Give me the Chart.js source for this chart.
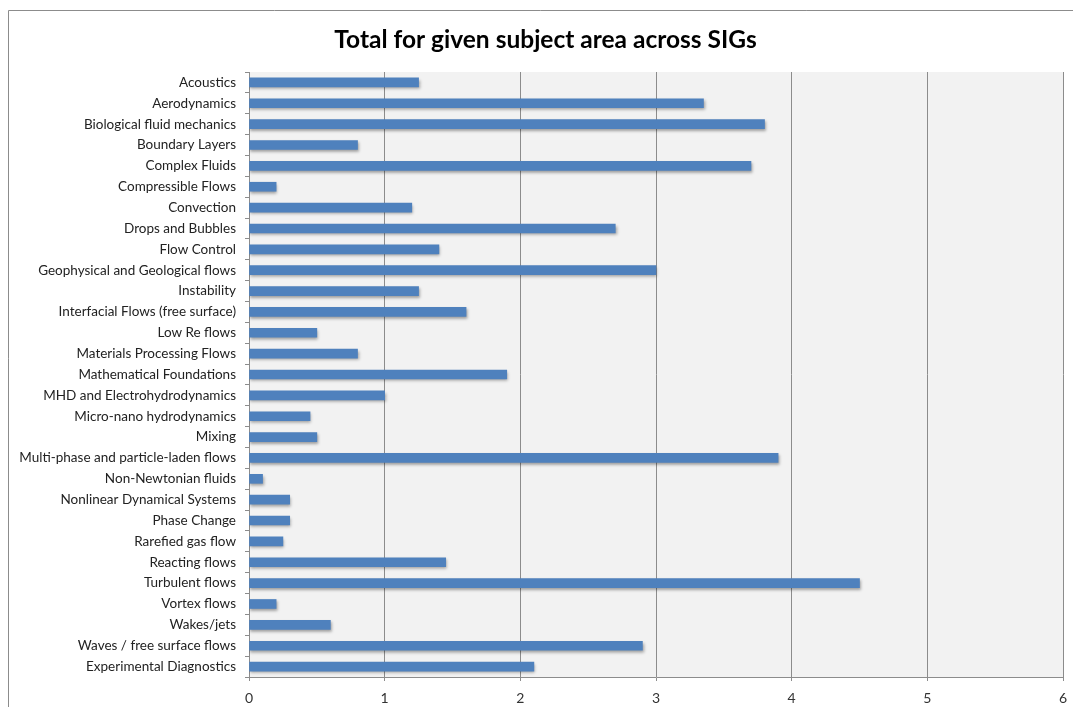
<!DOCTYPE html>
<html>
<head>
<meta charset="utf-8">
<script src="https://cdn.jsdelivr.net/npm/chart.js@4"></script>
<style>
html,body{margin:0;padding:0;background:#fff;}
#wrap{position:relative;width:1073px;height:707px;}
canvas{display:block;}
</style>
</head>
<body>
<div id="wrap"><canvas id="c" width="1073" height="707"></canvas></div>
<script>
const categories = [
  "Acoustics","Aerodynamics","Biological fluid mechanics","Boundary Layers","Complex Fluids",
  "Compressible Flows","Convection","Drops and Bubbles","Flow Control","Geophysical and Geological flows",
  "Instability","Interfacial Flows (free surface)","Low Re flows","Materials Processing Flows",
  "Mathematical Foundations","MHD and Electrohydrodynamics","Micro-nano hydrodynamics","Mixing",
  "Multi-phase and particle-laden flows","Non-Newtonian fluids","Nonlinear Dynamical Systems",
  "Phase Change","Rarefied gas flow","Reacting flows","Turbulent flows","Vortex flows","Wakes/jets",
  "Waves / free surface flows","Experimental Diagnostics"
];
const totals = [
  1.25, 3.35, 3.8, 0.8, 3.7,
  0.2, 1.2, 2.7, 1.4, 3.0,
  1.25, 1.6, 0.5, 0.8,
  1.9, 1.0, 0.45, 0.5,
  3.9, 0.1, 0.3,
  0.3, 0.25, 1.45, 4.5, 0.2, 0.6,
  2.9, 2.1
];
const xTicks = [0,1,2,3,4,5,6];
const titleText = "Total for given subject area across SIGs";

const frame = {
  id: 'frame',
  afterLayout(chart) {
    if (chart.titleBlock) { chart.titleBlock.left = 28; }
  },
  beforeDraw(chart) {
    const ctx = chart.ctx;
    ctx.save();
    ctx.fillStyle = '#ffffff';
    ctx.fillRect(0, 0, chart.width, chart.height);
    ctx.strokeStyle = '#8c8c8c';
    ctx.lineWidth = 1;
    ctx.beginPath();
    ctx.moveTo(8.5, chart.height);
    ctx.lineTo(8.5, 10.5);
    ctx.lineTo(chart.width, 10.5);
    ctx.stroke();
    const a = chart.chartArea;
    ctx.fillStyle = '#f2f2f2';
    ctx.fillRect(a.left, a.top, a.right - a.left, a.bottom - a.top);
    ctx.restore();
  },
  beforeDatasetDraw(chart) {
    const ctx = chart.ctx;
    ctx.save();
    ctx.shadowColor = 'rgba(0,0,0,0.35)';
    ctx.shadowBlur = 3;
    ctx.shadowOffsetX = 1;
    ctx.shadowOffsetY = 2;
  },
  afterDatasetDraw(chart) {
    chart.ctx.restore();
  }
};

new Chart(document.getElementById('c'), {
  type: 'bar',
  data: {
    labels: categories,
    datasets: [{
      data: totals,
      backgroundColor: '#4f81bd',
      borderWidth: 0,
      barThickness: 9
    }]
  },
  options: {
    indexAxis: 'y',
    responsive: false,
    animation: false,
    devicePixelRatio: 1,
    layout: { padding: { left: 0, right: 10, top: 0, bottom: 0 } },
    plugins: {
      legend: { display: false },
      tooltip: { enabled: false },
      title: {
        display: true,
        text: titleText,
        color: '#000',
        font: { family: 'Lato', size: 24.5, weight: 'bold', lineHeight: 1.2 },
        padding: { top: 25, bottom: 17.6 }
      }
    },
    scales: {
      x: {
        min: 0, max: 6,
        afterFit(s) { s.height = 30; s.paddingLeft = 0; s.paddingRight = 0; },
        afterBuildTicks(s) { s.ticks = xTicks.map(v => ({ value: v })); },
        grid: { color: '#8c8c8c', lineWidth: 1, tickLength: 4, drawTicks: true },
        border: { color: '#8c8c8c' },
        ticks: { color: '#333', padding: 9, font: { family: 'Lato', size: 14 } }
      },
      y: {
        afterFit(s) { s.width = 249; },
        grid: { display: true, drawOnChartArea: false, tickLength: 4, color: '#8c8c8c', offset: true },
        border: { color: '#8c8c8c' },
        ticks: { color: '#222', padding: 9, autoSkip: false, font: { family: 'Lato', size: 13.5 } }
      }
    }
  },
  plugins: [frame]
});
</script>
</body>
</html>
